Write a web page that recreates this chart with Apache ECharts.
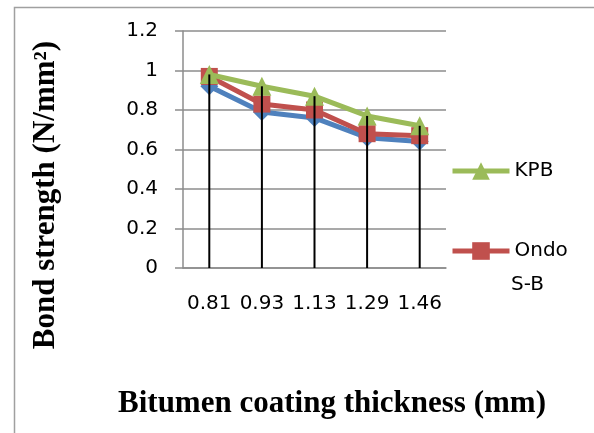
<!DOCTYPE html>
<html>
<head>
<meta charset="utf-8">
<style>
  html, body { margin: 0; padding: 0; background: #fff; }
  #chart { width: 594px; height: 433px; }
</style>
<script src="https://cdn.jsdelivr.net/npm/echarts@6/dist/echarts.min.js"></script>
</head>
<body>
<div id="chart"></div>
<script>
// Coating thickness (mm) on the category axis
const thickness = ['0.81', '0.93', '1.13', '1.29', '1.46'];
// Bond strength (N/mm²) per bitumen type
const seriesBlue = [0.92, 0.79, 0.76, 0.66, 0.64];
const ondoSB = [0.97, 0.83, 0.80, 0.68, 0.67];
const kpb = [0.98, 0.92, 0.87, 0.77, 0.72];
// Y-axis range and step
const yMin = 0, yMax = 1.2, yStep = 0.2;

// Drop lines reach up to the highest series at each thickness
const dropTop = thickness.map((_, i) => Math.max(seriesBlue[i], ondoSB[i], kpb[i]));

const labelFont = 'DejaVu Sans';
const titleFont = 'Liberation Serif';
const labelSize = 20;

const chart = echarts.init(document.getElementById('chart'), null, { renderer: 'canvas' });

chart.setOption({
  animation: false,
  backgroundColor: '#ffffff',
  grid: { left: 183, top: 31, right: 148, bottom: 165, containLabel: false },
  xAxis: {
    type: 'category',
    data: thickness,
    boundaryGap: true,
    axisLine: { show: true, lineStyle: { color: '#8c8c8c', width: 1.5 } },
    axisTick: { show: false },
    axisLabel: {
      color: '#000', fontFamily: labelFont, fontSize: labelSize, margin: 26,
      interval: 0, hideOverlap: false
    },
    splitLine: { show: false }
  },
  yAxis: {
    type: 'value',
    min: yMin, max: yMax, interval: yStep,
    axisLine: { show: true, lineStyle: { color: '#8c8c8c', width: 1.5 } },
    axisTick: { show: true, inside: false, length: 8, lineStyle: { color: '#8c8c8c', width: 1.5 } },
    axisLabel: {
      color: '#000', fontFamily: labelFont, fontSize: labelSize, margin: 25,
      formatter: v => String(Math.round(v * 10) / 10)
    },
    splitLine: { show: true, lineStyle: { color: '#8c8c8c', width: 1.5 } }
  },
  legend: [
    {
      data: ['KPB'],
      left: 450, top: 161, padding: 0,
      itemWidth: 57, itemHeight: 22, itemGap: 4,
      lineStyle: { width: 5 },
      textStyle: { color: '#000', fontFamily: labelFont, fontSize: labelSize }
    },
    {
      data: ['Ondo S-B'],
      left: 450, top: 241, padding: 0,
      itemWidth: 57, itemHeight: 22, itemGap: 4,
      lineStyle: { width: 5 },
      formatter: () => 'Ondo',
      textStyle: { color: '#000', fontFamily: labelFont, fontSize: labelSize }
    }
  ],
  graphic: [
    {
      type: 'rect',
      shape: { x: 14.5, y: 7.5, width: 700, height: 600 },
      style: { fill: 'none', stroke: '#a0a0a0', lineWidth: 1.5 },
      silent: true
    },
    {
      // second line of the wrapped legend label
      type: 'text',
      x: 511, y: 285,
      style: {
        text: 'S-B',
        fontFamily: labelFont, fontSize: labelSize, fill: '#000',
        align: 'left', verticalAlign: 'middle'
      },
      silent: true
    },
    {
      type: 'text',
      x: 332, y: 404,
      style: {
        text: 'Bitumen coating thickness (mm)',
        fontFamily: titleFont, fontWeight: 'bold', fontSize: 31, fill: '#000',
        align: 'center', verticalAlign: 'middle'
      },
      silent: true
    },
    {
      type: 'text',
      x: 46, y: 195,
      rotation: Math.PI / 2,
      style: {
        text: 'Bond strength (N/mm²)',
        fontFamily: titleFont, fontWeight: 'bold', fontSize: 31, fill: '#000',
        align: 'center', verticalAlign: 'middle'
      },
      silent: true
    }
  ],
  series: [
    {
      name: 'Series1',
      type: 'line',
      data: seriesBlue,
      symbol: 'diamond', symbolSize: 18,
      lineStyle: { color: '#4F81BD', width: 5 },
      itemStyle: { color: '#4F81BD' },
      z: 2
    },
    {
      name: 'Ondo S-B',
      type: 'line',
      data: ondoSB,
      symbol: 'rect', symbolSize: 17,
      lineStyle: { color: '#C0504D', width: 5 },
      itemStyle: { color: '#C0504D' },
      z: 3
    },
    {
      name: 'KPB',
      type: 'line',
      data: kpb,
      symbol: 'triangle', symbolSize: 19,
      lineStyle: { color: '#9BBB59', width: 5 },
      itemStyle: { color: '#9BBB59' },
      z: 4
    },
    {
      name: 'drop',
      type: 'bar',
      data: dropTop,
      barWidth: 2,
      itemStyle: { color: '#000' },
      z: 5,
      silent: true
    }
  ]
});
</script>
</body>
</html>
